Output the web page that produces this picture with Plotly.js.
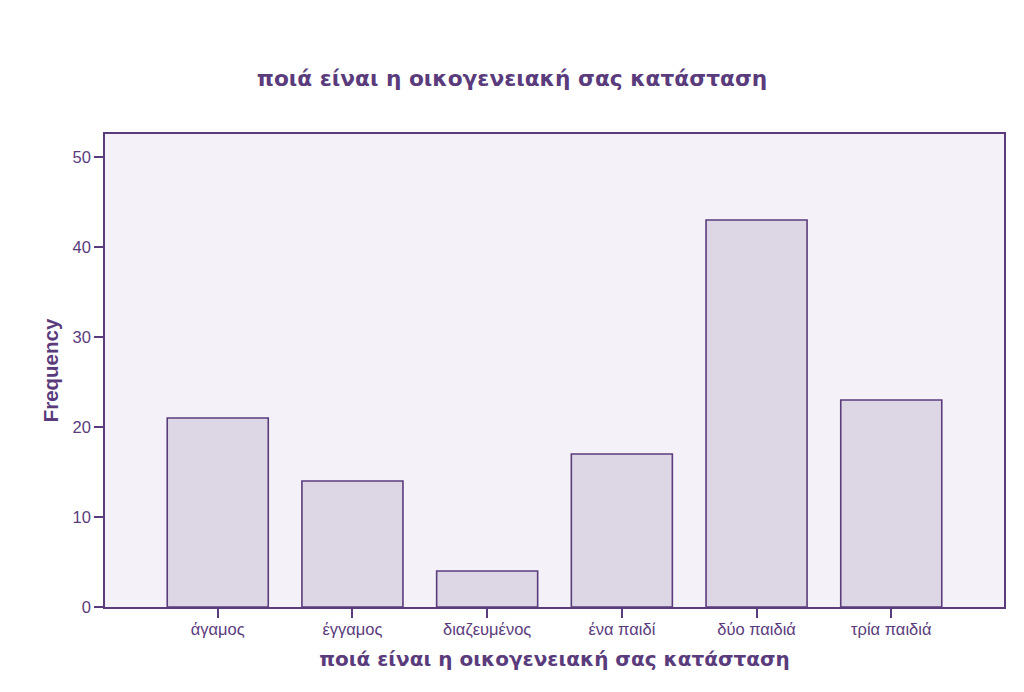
<!DOCTYPE html>
<html>
<head>
<meta charset="utf-8">
<script src="https://cdn.plot.ly/plotly-3.0.1.min.js"></script>
<style>
  html, body { margin: 0; padding: 0; background: #fff; }
  #chart { width: 1024px; height: 692px; }
</style>
</head>
<body>
<div id="chart"></div>
<script>
// marital status frequencies
const categories = ['άγαμος', 'έγγαμος', 'διαζευμένος', 'ένα παιδί', 'δύο παιδιά', 'τρία παιδιά'];
const frequency = [21, 14, 4, 17, 43, 23];
const yTicks = [0, 10, 20, 30, 40, 50];

const ink = '#5a3c7c';

const trace = {
    type: 'bar',
    x: categories.map((_, i) => i),
    y: frequency,
    width: 0.75,
    marker: { color: '#ddd7e5', line: { color: ink, width: 1.6 } },
    hoverinfo: 'y'
};

const layout = {
    width: 1024,
    height: 692,
    margin: { l: 105, r: 20, t: 134, b: 85 },
    paper_bgcolor: '#ffffff',
    plot_bgcolor: '#f4f2f8',
    font: { family: 'Liberation Sans, Arial, sans-serif', color: ink, size: 14 },
    title: {
        text: 'ποιά είναι η οικογενειακή σας κατάσταση',
        font: { family: 'DejaVu Sans, sans-serif', size: 21.7, color: ink, weight: 'bold' },
        x: 0.5, xanchor: 'center',
        y: 0.887, yanchor: 'middle'
    },
    xaxis: {
        range: [-0.837, 5.837],
        tickvals: categories.map((_, i) => i),
        ticktext: categories,
        ticks: 'outside', ticklen: 9, tickwidth: 1.6, tickcolor: ink,
        ticklabelstandoff: -3,
        showline: true, linecolor: ink, linewidth: 1.6, mirror: true,
        showgrid: false, zeroline: false,
        tickfont: { size: 16.5, color: ink },
        title: {
            text: 'ποιά είναι η οικογενειακή σας κατάσταση',
            font: { family: 'DejaVu Sans, sans-serif', size: 20, color: ink, weight: 'bold' },
            standoff: 14
        }
    },
    yaxis: {
        range: [0, 52.56],
        tickvals: yTicks,
        ticks: 'outside', ticklen: 9, tickwidth: 1.6, tickcolor: ink,
        showline: true, linecolor: ink, linewidth: 1.6, mirror: true,
        showgrid: false, zeroline: false,
        tickfont: { size: 16.5, color: ink },
        title: {
            text: 'Frequency',
            font: { family: 'Liberation Sans Narrow, Liberation Sans, sans-serif', size: 20.5, color: ink, weight: 'bold', stretch: 'condensed' },
            standoff: 8
        }
    },
    showlegend: false
};

Plotly.newPlot('chart', [trace], layout, { displayModeBar: false, responsive: false });
</script>
</body>
</html>
